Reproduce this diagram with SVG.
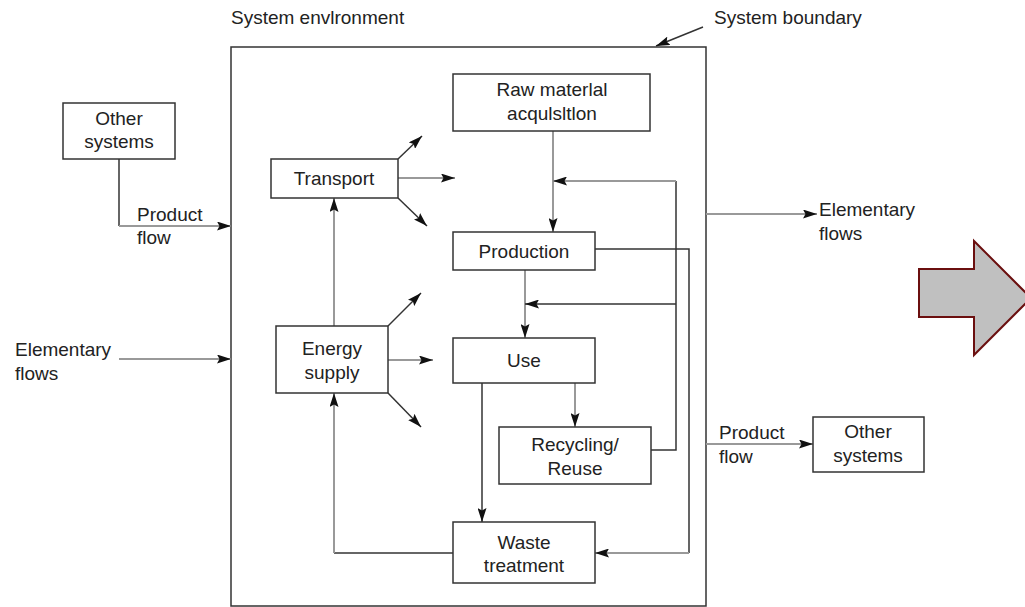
<svg xmlns="http://www.w3.org/2000/svg" width="1025" height="607" viewBox="0 0 1025 607">
<defs>
<marker id="ah" markerWidth="15" markerHeight="9" refX="14" refY="4.5" orient="auto" markerUnits="userSpaceOnUse">
<path d="M0,0 L14,4.5 L0,9 L2.5,4.5 z" fill="#111"/>
</marker>
<style>
text{font-family:"Liberation Sans",Arial,sans-serif;font-size:19px;fill:#222}
.c{text-anchor:middle}
.box{fill:#fff;stroke:#333;stroke-width:1.5}
.d{fill:none;stroke:#333;stroke-width:1.5}
.g{fill:none;stroke:#999;stroke-width:2}
.a{marker-end:url(#ah)}
</style>
</defs>
<rect width="1025" height="607" fill="#fff"/>
<g id="boundary">
<rect x="231" y="47" width="475" height="559" fill="none" stroke="#333" stroke-width="1.5"/>
</g>
<text x="231" y="24">System envlronment</text>
<text x="714" y="24">System boundary</text>
<g id="connectors">
<path class="d a" d="M703,27 L656,46"/>
<path class="d" d="M119,159 V226"/>
<path class="g a" d="M119,226 H231"/>
<path class="g a" d="M119,359 H231"/>
<path class="g a" d="M706,214 H817"/>
<path class="g a" d="M706,444 H813"/>
<path class="d a" d="M398,159 L422,136"/>
<path class="g a" d="M398,178 H455"/>
<path class="d a" d="M398,198 L427,226"/>
<path class="d a" d="M388,326 L421,293"/>
<path class="g a" d="M388,360 H433"/>
<path class="d a" d="M388,393 L421,427"/>
<path class="g a" d="M334,326 V198"/>
<path class="d" d="M454,553 H334"/>
<path class="g a" d="M334,553 V393"/>
<path class="g a" d="M553,131 V232"/>
<path class="g a" d="M525,270 V338"/>
<path class="g a" d="M575,383 V427"/>
<path class="d a" d="M482,383 V522"/>
<path class="d" d="M651,450 H676 V181"/>
<path class="g a" d="M676,181 H553"/>
<path class="d a" d="M676,304 H525"/>
<path class="d" d="M595,249 H689 V553"/>
<path class="g a" d="M689,553 H595"/>
</g>
<g id="other-systems-in">
<rect class="box" x="63" y="103" width="112" height="56"/>
<text class="c" x="119" y="125">Other</text>
<text class="c" x="119" y="148">systems</text>
</g>
<text x="137" y="221">Product</text>
<text x="137" y="244">flow</text>
<text x="15" y="356">Elementary</text>
<text x="15" y="380">flows</text>
<text x="819" y="216">Elementary</text>
<text x="819" y="240">flows</text>
<text x="719" y="439">Product</text>
<text x="719" y="463">flow</text>
<g id="other-systems-out">
<rect class="box" x="813" y="417" width="111" height="55"/>
<text class="c" x="868" y="438">Other</text>
<text class="c" x="868" y="462">systems</text>
</g>
<g id="raw-material">
<rect class="box" x="453" y="74" width="197" height="57"/>
<text class="c" x="552" y="96">Raw materlal</text>
<text class="c" x="552" y="120">acqulsltlon</text>
</g>
<g id="transport">
<rect class="box" x="271" y="159" width="127" height="39"/>
<text class="c" x="334" y="185">Transport</text>
</g>
<g id="energy-supply">
<rect class="box" x="276" y="326" width="112" height="67"/>
<text class="c" x="332" y="355">Energy</text>
<text class="c" x="332" y="379">supply</text>
</g>
<g id="production">
<rect class="box" x="453" y="232" width="142" height="38"/>
<text class="c" x="524" y="258">Production</text>
</g>
<g id="use">
<rect class="box" x="453" y="338" width="142" height="45"/>
<text class="c" x="524" y="367">Use</text>
</g>
<g id="recycling">
<rect class="box" x="499" y="427" width="152" height="57"/>
<text class="c" x="575" y="451">Recycling/</text>
<text class="c" x="575" y="475">Reuse</text>
</g>
<g id="waste">
<rect class="box" x="453" y="522" width="142" height="61"/>
<text class="c" x="524" y="549">Waste</text>
<text class="c" x="524" y="572">treatment</text>
</g>
<g id="big-arrow">
<polygon points="919,269 974,269 974,241 1031,298 974,355 974,317 919,317" fill="#c0c0c0" stroke="#6b0f0f" stroke-width="2"/>
</g>
</svg>
